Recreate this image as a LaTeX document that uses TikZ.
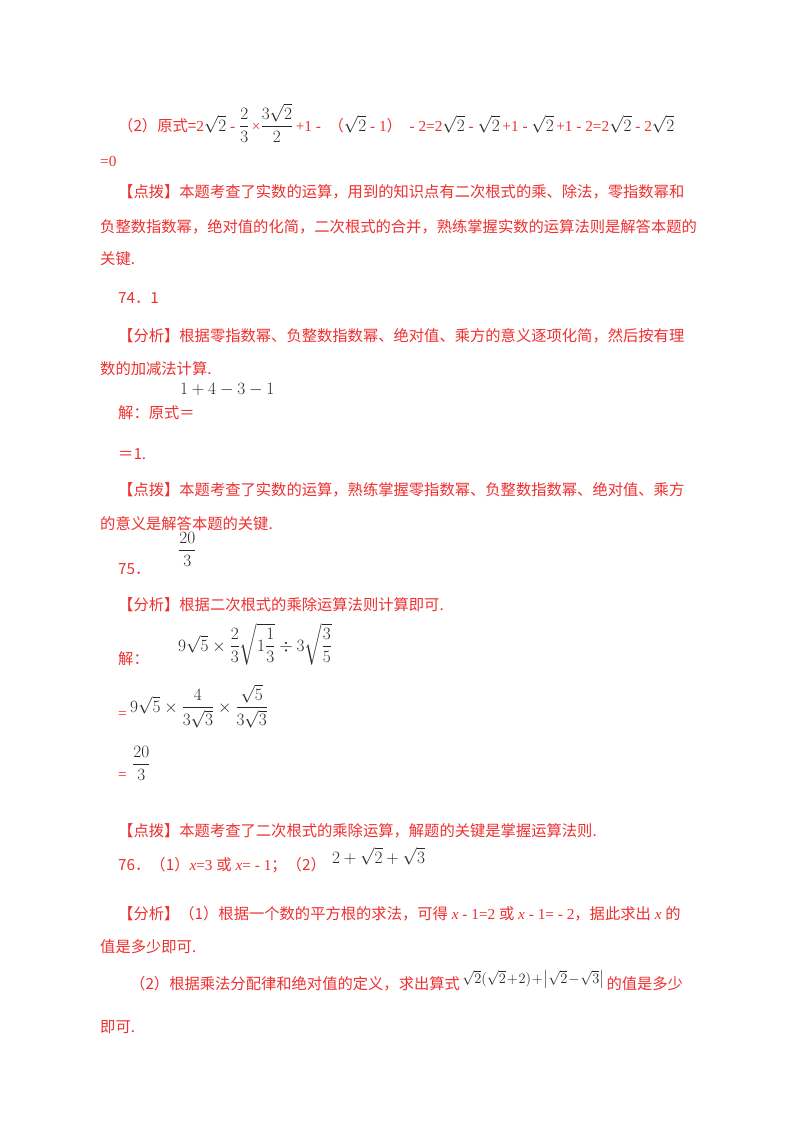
\documentclass[tikz,border=0pt]{standalone}
\usepackage{fontspec}
\usepackage{amsmath}
\setmainfont{Liberation Serif}
\newfontfamily\cjk{Noto Sans CJK SC}
\definecolor{rd}{RGB}{238,48,48}
\definecolor{mk}{RGB}{40,40,40}
\newcommand{\mk}[1]{\textcolor{mk}{\fontsize{17}{18}\selectfont#1}}
\begin{document}
\begin{tikzpicture}[x=1pt,y=-1pt,
  tx/.style={anchor=base west,inner sep=0pt,text=rd,font=\fontsize{15.3}{17}\selectfont},
  mt/.style={anchor=base west,inner sep=0pt,text=mk,font=\fontsize{16}{18}\selectfont}]
\useasboundingbox[fill=white] (0,0) rectangle (800,1132);
\node[tx] (a1) at (118,131) {\cjk（2）原式={\rm 2}\mk{$\sqrt{2}$}{\rm\ -\ }\mk{$\dfrac{2}{3}$}{\rm\,×}\mk{$\dfrac{3\sqrt{2}}{2}$}{\rm\,+1\ -\ \ }（\mk{$\sqrt{2}$}{\rm\ -\ 1}）{\rm\ \ - 2=2}\mk{$\sqrt{2}$}{\rm\ -\ }\mk{$\sqrt{2}$}{\rm\,+1\ -\ }\mk{$\sqrt{2}$}{\rm\,+1\ -\ 2=2}\mk{$\sqrt{2}$}{\rm\ -\ 2}\mk{$\sqrt{2}$}};
\node[tx] (a2) at (100,166) {=0};
\node[tx] (b1) at (118,197) {\cjk【点拨】本题考查了实数的运算，用到的知识点有二次根式的乘、除法，零指数幂和};
\node[tx] (b2) at (100,232) {\cjk 负整数指数幂，绝对值的化简，二次根式的合并，熟练掌握实数的运算法则是解答本题的};
\node[tx] (b3) at (100,264) {\cjk 关键.};
\node[tx] (c1) at (118,303) {\cjk 74．1};
\node[tx] (c2) at (118,341) {\cjk【分析】根据零指数幂、负整数指数幂、绝对值、乘方的意义逐项化简，然后按有理};
\node[tx] (c3) at (100,374) {\cjk 数的加减法计算.};
\node[tx] (c4) at (118,418) {\cjk 解：原式＝};
\node[mt] (c5) at (180,394) {$1+4-3-1$};
\node[tx] (c6) at (118,459) {\cjk ＝1.};
\node[tx] (d1) at (118,495) {\cjk【点拨】本题考查了实数的运算，熟练掌握零指数幂、负整数指数幂、绝对值、乘方};
\node[tx] (d2) at (100,529) {\cjk 的意义是解答本题的关键.};
\node[tx] (e1) at (118,574) {\cjk 75．};
\node[mt] (e2) at (178,555) {$\dfrac{20}{3}$};
\node[tx] (e3) at (118,610) {\cjk【分析】根据二次根式的乘除运算法则计算即可.};
\node[tx] (e4) at (118,664) {\cjk 解：};
\node[mt] (e5) at (178,651) {$9\sqrt{5}\times\dfrac{2}{3}\sqrt{1\dfrac{1}{3}}\div3\sqrt{\dfrac{3}{5}}$};
\node[tx] (e6) at (118,718) {=};
\node[mt] (e7) at (130,712) {$9\sqrt{5}\times\dfrac{4}{3\sqrt{3}}\times\dfrac{\sqrt{5}}{3\sqrt{3}}$};
\node[tx] (e8) at (118,779) {=};
\node[mt] (e9) at (132,769) {$\dfrac{20}{3}$};
\node[tx] (f1) at (118,836) {\cjk【点拨】本题考查了二次根式的乘除运算，解题的关键是掌握运算法则.};
\node[tx] (g1) at (118,870) {\cjk 76．（1）{\rm\textit{x}=3 }或{\rm\ \textit{x}= - 1}；（2）};
\node[mt,anchor=base west] (g2) at ([xshift=6pt,yshift=7pt]g1.base east) {$2+\sqrt{2}+\sqrt{3}$};
\node[tx] (h1) at (118,919) {\cjk【分析】（1）根据一个数的平方根的求法，可得{\rm\ \textit{x} - 1=2 }或{\rm\ \textit{x} - 1= - 2}，据此求出{\rm\ \textit{x} }的};
\node[tx] (h2) at (100,952) {\cjk 值是多少即可.};
\node[tx] (h3) at (130,989) {\cjk（2）根据乘法分配律和绝对值的定义，求出算式};
\node[mt,anchor=base west,font=\fontsize{14}{16}\selectfont] (h4) at ([xshift=2pt,yshift=6pt]h3.base east) {$\sqrt{2}(\sqrt{2}\!+\!2)\!+\!\bigl|\sqrt{2}\!-\!\sqrt{3}\bigr|$};
\node[tx,anchor=base west] (h5) at ([xshift=2pt]h3.base east -| h4.east) {\cjk 的值是多少};
\node[tx] (h6) at (100,1032) {\cjk 即可.};
\end{tikzpicture}
\end{document}
